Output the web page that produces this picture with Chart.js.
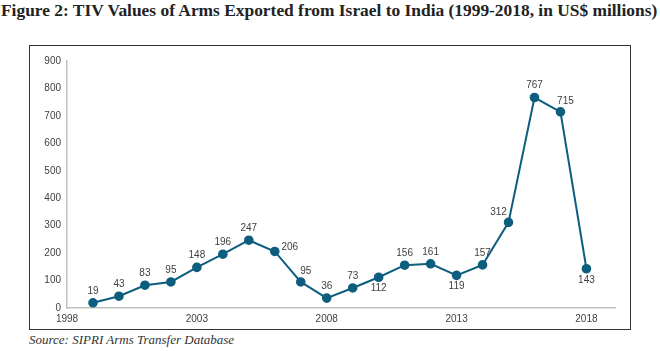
<!DOCTYPE html>
<html lang="en">
<head>
  <meta charset="UTF-8">
  <title>TIV Values of Arms Exported from Israel to India</title>
  <script src="https://cdn.jsdelivr.net/npm/chart.js"></script>
  <style>
    body {
      margin: 0;
      width: 660px;
      height: 351px;
      background: #fff;
      position: relative;
      overflow: hidden;
    }
    h1 {
      position: absolute;
      left: 1px;
      top: 0px;
      margin: 0;
      font-family: 'Liberation Serif', serif;
      font-weight: bold;
      font-size: 17.4px;
      color: #222;
      white-space: nowrap;
    }
    .box {
      position: absolute;
      left: 29px;
      top: 45px;
      width: 600px;
      height: 283px;
      border: 1.5px solid #333;
    }
    .source {
      position: absolute;
      left: 29px;
      top: 332px;
      font-family: 'Liberation Serif', serif;
      font-style: italic;
      font-size: 13px;
      color: #333;
    }
  </style>
</head>
<body>

<h1>Figure 2: TIV Values of Arms Exported from Israel to India (1999-2018, in US$ millions)</h1>
<div class="box">
  <canvas id="tivChart" width="600" height="283"></canvas>
</div>
<div class="source">Source: SIPRI Arms Transfer Database</div>

<script>
const years = [1999, 2000, 2001, 2002, 2003, 2004, 2005, 2006, 2007, 2008,
               2009, 2010, 2011, 2012, 2013, 2014, 2015, 2016, 2017, 2018];
const tiv = [19, 43, 83, 95, 148, 196, 247, 206, 95, 36,
             73, 112, 156, 161, 119, 157, 312, 767, 715, 143];
const xTicks = [1998, 2003, 2008, 2013, 2018];
const yTicks = [0, 100, 200, 300, 400, 500, 600, 700, 800, 900];

// where each value label sits relative to its point
const labelPos = ['t','t','t','t','t','t','t','r','tr','t',
                  't','b','t','t','b','t','tl','t','tr','b'];

const lineColor = '#0d5e7e';
const textColor = '#404040';

const valueLabels = {
  id: 'valueLabels',
  afterDatasetsDraw(chart) {
    const ctx = chart.ctx;
    const meta = chart.getDatasetMeta(0);
    ctx.save();
    ctx.font = '10px "Liberation Sans", sans-serif';
    ctx.fillStyle = textColor;
    ctx.textBaseline = 'middle';
    ctx.textAlign = 'center';
    meta.data.forEach((pt, i) => {
      let x = pt.x, y = pt.y;
      const p = labelPos[i];
      if (p === 't') { y -= 12; }
      else if (p === 'b') { y += 11; }
      else if (p === 'r') { x += 15; y -= 4; }
      else if (p === 'tr') { x += 5; y -= 11; }
      else if (p === 'tl') { x -= 10; y -= 10; }
      ctx.fillText(String(tiv[i]), x, y);
    });
    ctx.restore();
  }
};

new Chart(document.getElementById('tivChart'), {
  type: 'line',
  data: {
    datasets: [{
      data: years.map((yr, i) => ({ x: yr, y: tiv[i] })),
      borderColor: lineColor,
      backgroundColor: lineColor,
      borderWidth: 2,
      pointRadius: 3.8,
      pointHoverRadius: 3.8,
      tension: 0
    }]
  },
  options: {
    responsive: false,
    animation: false,
    layout: { padding: { top: 15, right: 15, left: 0, bottom: 0 } },
    plugins: {
      legend: { display: false },
      tooltip: { enabled: false }
    },
    scales: {
      x: {
        type: 'linear',
        min: 1998,
        max: 2019.1,
        afterBuildTicks: axis => { axis.ticks = xTicks.map(v => ({ value: v })); },
        afterFit: axis => { axis.height = 21; },
        grid: { display: false, drawTicks: false },
        border: { color: '#c0c0c0', width: 1.5 },
        ticks: {
          padding: 5,
          color: textColor,
          font: { family: 'Liberation Sans', size: 10 },
          callback: v => String(v)
        }
      },
      y: {
        min: 0,
        max: 900,
        afterBuildTicks: axis => { axis.ticks = yTicks.map(v => ({ value: v })); },
        afterFit: axis => { axis.width = 37; },
        grid: { display: false, drawTicks: false },
        border: { color: '#c0c0c0', width: 1.5 },
        ticks: {
          padding: 6,
          color: textColor,
          font: { family: 'Liberation Sans', size: 10 }
        }
      }
    }
  },
  plugins: [valueLabels]
});
</script>
</body>
</html>
